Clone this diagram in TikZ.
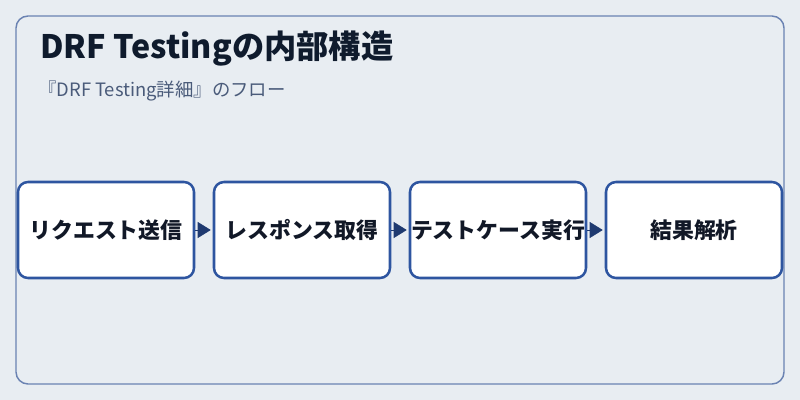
\documentclass[tikz,border=0pt]{standalone}
\usepackage{fontspec}
\setmainfont{Noto Sans CJK JP}
\usetikzlibrary{arrows.meta}
\definecolor{bgc}{HTML}{E8EDF2}
\definecolor{framec}{HTML}{6A82B2}
\definecolor{boxc}{HTML}{2E55A0}
\definecolor{arrowc}{HTML}{1F3A70}
\definecolor{titlec}{HTML}{0F1B2D}
\definecolor{subc}{HTML}{4A5B7A}
\definecolor{textc}{HTML}{111827}
\tikzset{
  stepbox/.style={draw=boxc, fill=white, line width=1.9pt, rounded corners=7.5pt,
    minimum width=132pt, minimum height=72pt, inner sep=0pt, text=textc,
    font=\fontsize{16.4pt}{19pt}\selectfont\bfseries},
  flowarrow/.style={draw=arrowc, line width=0.4pt, shorten >=1.5pt,
    -{Triangle[length=9.75pt,width=12pt]}, arrowc}
}
\begin{document}
\begin{tikzpicture}[x=0.75pt,y=-0.75pt]
    \useasboundingbox (0,0) rectangle (800,400);
    \fill[bgc] (0,0) rectangle (800,400);
    \draw[framec, line width=1.1pt, rounded corners=9pt] (16,16) rectangle (784,384);
    \node[anchor=base west, inner sep=0pt, text=titlec,
      font=\fontsize{24.2pt}{28pt}\selectfont\bfseries] (title) at (40,58) {DRF Testingの内部構造};
    \node[anchor=base west, inner sep=0pt, text=subc,
      font=\fontsize{13.8pt}{17pt}\selectfont] (sub) at (38,96) {『DRF Testing詳細』のフロー};
    \foreach \i/\x/\lab in {1/106/リクエスト送信, 2/302/レスポンス取得, 3/498/テストケース実行, 4/694/結果解析}{
      \node[stepbox] (b\i) at (\x,230) {\lab};
    }
    \foreach \i [evaluate=\i as \j using int(\i+1)] in {1,2,3}{
      \draw[flowarrow] (b\i.east) -- (b\j.west);
    }
\end{tikzpicture}
\end{document}
